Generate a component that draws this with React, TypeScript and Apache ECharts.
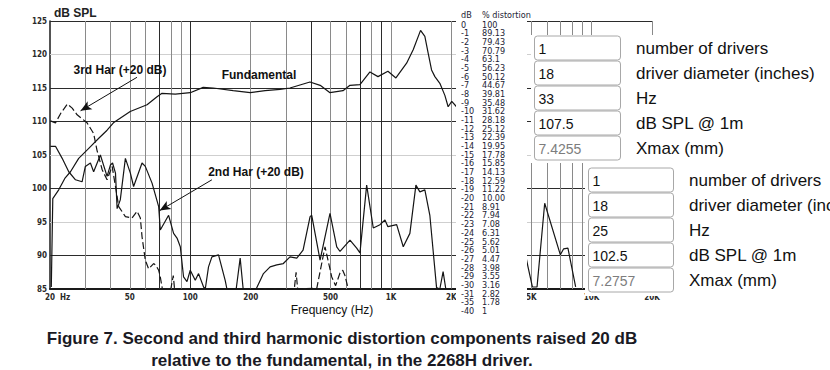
import { useEffect, useRef } from "react";
import * as echarts from "echarts";

// ---- data ----
const fundFreq = [20.3, 20.65, 22.1, 23.7, 25.3, 27.8, 31.2, 35.0, 38.5, 41.4, 50.2, 60.9, 68.3, 72.3, 84.2, 100, 116, 130, 163.7, 199, 236, 280, 314, 395, 444, 497, 577, 625, 701, 786, 862, 966, 1059, 1197, 1291, 1405, 1476, 1533, 1594, 1656, 1753, 1857, 1928, 2010, 2123];
const fundDb = [85.3, 98.5, 99.8, 101.5, 102.5, 104.5, 106, 107.5, 108.7, 109.8, 111.5, 112.5, 113.7, 114.2, 114.1, 114.3, 115.1, 115.0, 114.6, 114.3, 114.6, 114.8, 115.0, 115.9, 115.4, 114.3, 114.6, 115.4, 115.5, 117.4, 116.7, 117.5, 116.5, 118.7, 120.7, 123.6, 122.7, 120.2, 117.7, 116.7, 115.7, 113.9, 112.2, 113.0, 112.2];

const h2Freq = [20.1, 21.3, 23.0, 24.8, 26.8, 28.9, 30.0, 31.8, 33.0, 35.65, 38.5, 40.0, 41.0, 42.4, 43.2, 44.8, 47.5, 50.3, 52.2, 57.5, 59.7, 64.5, 69.6, 70.9, 78.0, 82.6, 85.9, 89.2, 92.6, 96.3, 100, 105.9, 110, 116.5, 118.8, 123.3, 128.2, 138.3, 149.3, 152.3, 169.4, 177.3, 183.5, 213, 231.6, 250, 270, 291, 314, 339.5, 364.9, 395.5, 403, 418.8, 443.5, 497, 537, 557.6, 625, 675, 701, 757, 816.6, 882, 934, 966, 1068, 1152, 1243, 1332, 1394, 1476, 1563, 1688, 1753, 1820, 1877, 2100, 4300, 4550, 4821, 5070, 5347, 5838, 6989, 7258, 7622, 8327];
const h2Db = [106.3, 106.3, 104.5, 102.5, 101.3, 101.0, 103.3, 103.8, 102.5, 105.0, 101.8, 103.5, 103.8, 102.3, 97.0, 98.3, 104.5, 102.3, 100.3, 103.8, 103.3, 100.8, 97.3, 93.8, 96.0, 93.3, 92.6, 91.3, 86.8, 86.1, 87.8, 86.3, 87.3, 85.3, 85.0, 88.3, 89.8, 90.1, 86.3, 85.0, 85.0, 89.6, 85.0, 85.0, 87.3, 88.3, 88.6, 88.8, 89.8, 89.6, 90.8, 95.8, 96.0, 93.3, 89.3, 96.3, 91.3, 90.6, 92.3, 91.1, 90.4, 100.5, 94.1, 94.6, 95.3, 94.3, 94.6, 91.3, 93.3, 100.5, 99.5, 99.8, 96.0, 85.2, 85.0, 87.6, 85.0, 85.0, 85.0, 92.0, 88.3, 85.3, 85.3, 97.8, 90.1, 91.0, 91.1, 85.3];

const h3Freq = [20.1, 21.3, 22.6, 24.4, 25.8, 27.3, 30.6, 33.0, 34.3, 36.4, 38.5, 40.8, 42.4, 44.0, 47.5, 51.3, 54.3, 56.4, 57.5, 59.7, 62.0, 65.7, 67.5, 69.6, 70.9, 72.6, 80.0, 82.3, 83.5, 330, 336.8, 343, 427, 469.4, 507, 530, 557.6, 575, 590, 613];
const h3Db = [110.1, 109.8, 111.2, 112.6, 112.0, 111.0, 109.8, 108.2, 105.7, 102.8, 101.3, 103.3, 100.3, 97.3, 95.8, 95.6, 96.6, 95.6, 92.8, 89.3, 88.0, 88.8, 88.5, 87.8, 86.8, 85.0, 85.0, 87.0, 85.0, 85.0, 87.5, 85.0, 85.1, 91.3, 86.8, 85.5, 87.4, 87.8, 87.0, 85.0];

const xTickValues = [20, 50, 100, 200, 500, 1000, 2000, 5000, 10000, 20000];
const xTickLabels = ["20  Hz", "50", "100", "200", "500", "1K", "2K", "5K", "10K", "20K"];
const yMin = 85;
const yMax = 125;
const yStep = 5;

const hGridDark = [90, 100, 110, 115, 125];
const hGridLight = [95, 105, 120];
const vGridDark = [70, 100, 400, 700, 900];
const vGridMid = [30, 40, 50, 60, 80, 90, 200, 300, 500, 600, 800, 1000, 2000, 3000, 4000, 5000, 6000, 7000, 8000, 9000, 10000, 20000];

// arrows: [fromFreq, fromDb, toFreq, toDb]
const arrow3rd = [54.3, 116.6, 28.4, 111.6];
const arrow2nd = [128.2, 101.3, 70.4, 96.7];

const tableDb = ["0", "-1", "-2", "-3", "-4", "-5", "-6", "-7", "-8", "-9", "-10", "-11", "-12", "-13", "-14", "-15", "-16", "-17", "-18", "-19", "-20", "-21", "-22", "-23", "-24", "-25", "-26", "-27", "-28", "-29", "-30", "-31", "-35", "-40"];
const tablePct = ["100", "89.13", "79.43", "70.79", "63.1", "56.23", "50.12", "44.67", "39.81", "35.48", "31.62", "28.18", "25.12", "22.39", "19.95", "17.78", "15.85", "14.13", "12.59", "11.22", "10.00", "8.91", "7.94", "7.08", "6.31", "5.62", "5.01", "4.47", "3.98", "3.55", "3.16", "2.82", "1.78", "1"];

const setupA = ["1", "18", "33", "107.5", "7.4255"];
const setupB = ["1", "18", "25", "102.5", "7.2757"];
const setupLabels = ["number of drivers", "driver diameter (inches)", "Hz", "dB SPL @ 1m", "Xmax (mm)"];

const captionLines = [
  "Figure 7. Second and third harmonic distortion components raised 20 dB",
  "relative to the fundamental, in the 2268H driver.",
];

const zip = (a: number[], b: number[]) => a.map((v, i) => [v, b[i]]);

const NARROW = "'Liberation Sans Narrow', 'Arial Narrow', 'DejaVu Sans Condensed', 'Liberation Sans', sans-serif";
const SANS = "'Liberation Sans', Arial, Helvetica, sans-serif";

export default function App() {
  const ref = useRef<HTMLDivElement>(null);
  useEffect(() => {
    document.body.style.margin = "0";
    if (!ref.current) return;
    const chart = echarts.init(ref.current, null, { renderer: "svg" });

    const gridLines: any[] = [];
    hGridDark.forEach((v) => gridLines.push({ yAxis: v, lineStyle: { color: "#2b2b2b", width: 1, type: "solid" } }));
    hGridLight.forEach((v) => gridLines.push({ yAxis: v, lineStyle: { color: "#cfcfcf", width: 1, type: "solid" } }));
    vGridMid.forEach((v) => gridLines.push({ xAxis: v, lineStyle: { color: "#8a8a8a", width: 1, type: "solid" } }));
    vGridDark.forEach((v) => gridLines.push({ xAxis: v, lineStyle: { color: "#2b2b2b", width: 1, type: "solid" } }));

    const arrowLine = (a: number[]) => [
      { coord: [a[0], a[1]], symbol: "none" },
      { coord: [a[2], a[3]], symbol: "arrow", symbolSize: [7, 11] },
    ];

    const txt = (x: number, y: number, text: string, font: string, fill = "#111", align = "left") => ({
      type: "text",
      x,
      y,
      z: 110,
      silent: true,
      style: { text, font, fill, align, verticalAlign: "middle" },
    });

    const graphics: any[] = [];
    // table region & panels (white covers)
    graphics.push({ type: "rect", z: 100, silent: true, shape: { x: 456, y: 0, width: 71, height: 322 }, style: { fill: "#fff" } });
    graphics.push({ type: "rect", z: 100, silent: true, shape: { x: 531, y: 35, width: 299, height: 128 }, style: { fill: "#fff" } });
    graphics.push({ type: "rect", z: 100, silent: true, shape: { x: 585, y: 163, width: 245, height: 133 }, style: { fill: "#fff" } });

    // table text
    const tFont = "9px " + NARROW;
    graphics.push(txt(461, 15, "dB", tFont, "#1c1c34"));
    graphics.push(txt(482, 15, "% distortion", tFont, "#1c1c34"));
    tableDb.forEach((d, i) => {
      const y = 24.5 + 8.68 * i;
      graphics.push(txt(461, y, d, tFont, "#1c1c34"));
      graphics.push(txt(482, y, tablePct[i], tFont, "#1c1c34"));
    });

    // input boxes
    const boxGroup = (vals: string[], bx: number, by: number, bw: number, lx: number) => {
      vals.forEach((v, i) => {
        const y = by + 25 * i;
        graphics.push({
          type: "rect",
          z: 105,
          silent: true,
          shape: { x: bx, y, width: bw, height: 24, r: 3 },
          style: { fill: "#fff", stroke: "#a8a8a8", lineWidth: 1 },
        });
        graphics.push(txt(bx + 4, y + 12.5, v, "14px " + SANS, i === 4 ? "#7d7d7d" : "#111"));
        graphics.push(txt(lx, y + 12.5, setupLabels[i], "17px " + SANS, "#111"));
      });
    };
    boxGroup(setupA, 534.5, 36, 86, 636);
    boxGroup(setupB, 588.5, 168, 85, 689);

    // annotations
    graphics.push(txt(259, 75, "Fundamental", "bold 12px " + SANS, "#111", "center"));
    graphics.push(txt(120, 70, "3rd Har (+20 dB)", "bold 12px " + SANS, "#111", "center"));
    graphics.push(txt(256, 172, "2nd Har (+20 dB)", "bold 12px " + SANS, "#111", "center"));
    graphics.push(txt(54, 13, "dB SPL", "bold 12px " + SANS, "#222"));
    graphics.push(txt(332, 309.5, "Frequency (Hz)", "12px " + SANS, "#111", "center"));
    captionLines.forEach((c, i) => {
      graphics.push(txt(342, 338 + 22 * i, c, "bold 17px " + SANS, "#1a1a24", "center"));
    });

    const labelIndex = (v: number) => {
      let best = -1;
      xTickValues.forEach((t, i) => {
        if (Math.abs(Math.log10(v / t)) < 0.01) best = i;
      });
      return best;
    };

    const option: any = {
      animation: false,
      backgroundColor: "#fff",
      grid: { left: 50, right: 178, top: 21, bottom: 81, containLabel: false, outerBoundsMode: "none" },
      xAxis: {
        type: "log",
        logBase: 10,
        min: 20,
        max: 20000,
        axisLine: { show: true, onZero: false, lineStyle: { color: "#1a1a1a", width: 2 } },
        axisTick: { show: false },
        splitLine: { show: false },
        minorSplitLine: { show: false },
        axisLabel: {
          customValues: xTickValues,
          margin: 4,
          fontFamily: NARROW,
          fontSize: 8,
          fontWeight: "bold",
          color: "#2a2a2a",
          hideOverlap: false,
          formatter: (v: number) => {
            const i = labelIndex(v);
            if (i < 0) return "";
            return i === 0 ? "{hz|" + xTickLabels[0] + "}" : xTickLabels[i];
          },
          rich: {
            hz: { padding: [0, 0, 0, 15], fontFamily: NARROW, fontSize: 8, fontWeight: "bold", color: "#2a2a2a" },
          },
        },
      },
      yAxis: {
        type: "value",
        min: yMin,
        max: yMax,
        interval: yStep,
        axisLine: { show: true, lineStyle: { color: "#1a1a1a", width: 1.5 } },
        axisTick: { show: false },
        splitLine: { show: false },
        axisLabel: { margin: 3, fontFamily: NARROW, fontSize: 8, fontWeight: "bold", color: "#2a2a2a" },
      },
      series: [
        {
          name: "grid",
          type: "line",
          data: [],
          z: 1,
          markLine: {
            silent: true,
            z: 1,
            symbol: ["none", "none"],
            label: { show: false },
            emphasis: { disabled: true },
            data: gridLines,
          },
        },
        {
          name: "Fundamental",
          type: "line",
          data: zip(fundFreq, fundDb),
          showSymbol: false,
          z: 10,
          lineStyle: { color: "#151515", width: 1.2 },
        },
        {
          name: "2nd Har (+20 dB)",
          type: "line",
          data: zip(h2Freq, h2Db),
          showSymbol: false,
          z: 10,
          lineStyle: { color: "#151515", width: 1.2 },
        },
        {
          name: "3rd Har (+20 dB)",
          type: "line",
          data: zip(h3Freq, h3Db),
          showSymbol: false,
          z: 10,
          lineStyle: { color: "#151515", width: 1.2, type: [7, 3] },
        },
        {
          name: "arrows",
          type: "line",
          data: [],
          z: 12,
          markLine: {
            silent: true,
            z: 12,
            label: { show: false },
            lineStyle: { color: "#111", width: 1, type: "solid" },
            itemStyle: { color: "#111" },
            data: [arrowLine(arrow3rd), arrowLine(arrow2nd)],
          },
        },
      ],
      graphic: { elements: graphics },
    };
    chart.setOption(option);
    return () => chart.dispose();
  }, []);
  return <div ref={ref} style={{ position: "absolute", left: 0, top: 0, width: 830, height: 370 }} />;
}
